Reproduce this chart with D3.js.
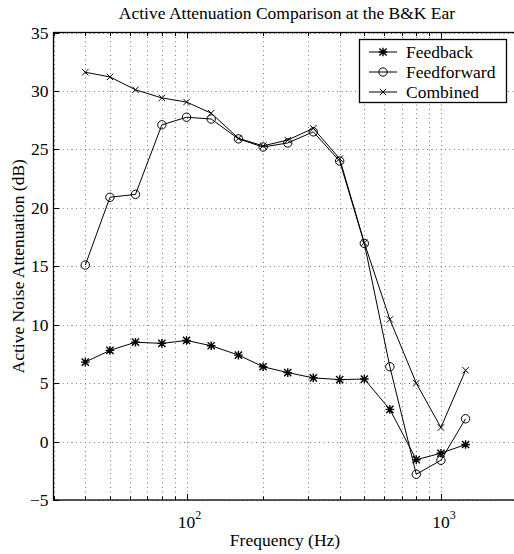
<!DOCTYPE html>
<html>
<head>
<meta charset="utf-8">
<script src="https://cdn.jsdelivr.net/npm/d3@7"></script>
<style>
    body { margin: 0; background: #fff; }
    svg { display: block; font-family: 'Liberation Serif', 'DejaVu Serif', serif; }
</style>
</head>
<body>
<svg id="chart" width="514" height="554"></svg>
<script>
'use strict';

// 1/3-octave band centre frequencies (Hz)
const freqs = [40, 50, 63, 80, 100, 125, 160, 200, 250, 315, 400, 500, 630, 800, 1000, 1250];

// attenuation in dB
const feedback = [6.8, 7.8, 8.5, 8.4, 8.65, 8.2, 7.4, 6.4, 5.9, 5.45, 5.3, 5.35, 2.75, -1.55, -1.0, -0.25];
const feedforward = [15.1, 20.9, 21.15, 27.1, 27.75, 27.6, 25.9, 25.2, 25.55, 26.5, 24.0, 16.95, 6.4, -2.8, -1.6, 1.95];
const combined = [31.6, 31.2, 30.1, 29.4, 29.05, 28.1, 25.95, 25.3, 25.8, 26.8, 24.2, 17.0, 10.45, 5.0, 1.2, 6.1];

const seriesNames = ['Feedback', 'Feedforward', 'Combined'];
const seriesMarkers = ['star', 'circle', 'cross'];
const yTicks = [-5, 0, 5, 10, 15, 20, 25, 30, 35];
const xMajor = [100, 1000];
const xMinor = [30, 40, 50, 60, 70, 80, 90, 200, 300, 400, 500, 600, 700, 800, 900, 2000];

const FONT = 17.5;

const plotChart = () => {
    const vis = d3.select('#chart');
    const margin = {left: 53.5, top: 32.5, right: 517.5, bottom: 500};

    const x = d3.scaleLog().domain([30, 2000]).range([margin.left, margin.right]);
    const y = d3.scaleLinear().domain([-5, 35]).range([margin.bottom, margin.top]);

    // grid
    const grid = vis.append('g')
        .attr('stroke', '#777')
        .attr('stroke-width', 1)
        .attr('stroke-dasharray', '1,3.5');
    grid.selectAll('.gx')
        .data(xMajor.concat(xMinor))
        .enter().append('line')
        .attr('x1', d => Math.round(x(d)) + 0.5)
        .attr('x2', d => Math.round(x(d)) + 0.5)
        .attr('y1', margin.top)
        .attr('y2', margin.bottom);
    grid.selectAll('.gy')
        .data(yTicks)
        .enter().append('line')
        .attr('x1', margin.left)
        .attr('x2', margin.right)
        .attr('y1', d => Math.round(y(d)) + 0.5)
        .attr('y2', d => Math.round(y(d)) + 0.5);

    // axes ticks (inward, MATLAB style)
    const ticks = vis.append('g').attr('stroke', '#000').attr('stroke-width', 1);
    const tickSets = [[xMajor, 6], [xMinor, 3.5]];
    tickSets.forEach(([vals, len]) => {
        vals.forEach(v => {
            const px = Math.round(x(v)) + 0.5;
            ticks.append('line').attr('x1', px).attr('x2', px)
                .attr('y1', margin.bottom).attr('y2', margin.bottom - len);
            ticks.append('line').attr('x1', px).attr('x2', px)
                .attr('y1', margin.top).attr('y2', margin.top + len);
        });
    });
    yTicks.forEach(v => {
        const py = Math.round(y(v)) + 0.5;
        ticks.append('line').attr('x1', margin.left).attr('x2', margin.left + 6)
            .attr('y1', py).attr('y2', py);
    });

    // box
    vis.append('rect')
        .attr('x', margin.left)
        .attr('y', margin.top)
        .attr('width', margin.right - margin.left)
        .attr('height', margin.bottom - margin.top)
        .attr('fill', 'none')
        .attr('stroke', '#000')
        .attr('stroke-width', 1.3);

    // tick labels
    vis.append('g')
        .selectAll('text')
        .data(yTicks)
        .enter().append('text')
        .attr('x', margin.left - 5)
        .attr('y', d => y(d) + 6)
        .attr('text-anchor', 'end')
        .attr('font-size', FONT)
        .text(d => d < 0 ? '\u2212' + Math.abs(d) : d);

    const xl = vis.append('g')
        .selectAll('text')
        .data(xMajor)
        .enter().append('text')
        .attr('x', d => x(d) + 3)
        .attr('y', 528)
        .attr('text-anchor', 'middle')
        .attr('font-size', FONT);
    xl.append('tspan').text('10');
    xl.append('tspan')
        .attr('font-size', 12)
        .attr('dy', -9)
        .text(d => Math.round(Math.log10(d)));

    // axis titles
    vis.append('text')
        .attr('x', 287)
        .attr('y', 19)
        .attr('text-anchor', 'middle')
        .attr('font-size', FONT)
        .text('Active Attenuation Comparison at the B&K Ear');
    vis.append('text')
        .attr('x', 285)
        .attr('y', 546)
        .attr('text-anchor', 'middle')
        .attr('font-size', FONT)
        .text('Frequency (Hz)');
    vis.append('text')
        .attr('transform', `translate(24,${(margin.top + margin.bottom) / 2}) rotate(-90)`)
        .attr('text-anchor', 'middle')
        .attr('font-size', FONT)
        .text('Active Noise Attenuation (dB)');

    // markers
    const drawMarker = (g, kind, cx, cy) => {
        if (kind === 'circle') {
            g.append('circle').attr('cx', cx).attr('cy', cy).attr('r', 4.2)
                .attr('fill', 'none').attr('stroke', '#000').attr('stroke-width', 1);
        } else {
            const s = kind === 'star' ? 3.6 : 3.2;
            const path = d3.path();
            path.moveTo(cx - s, cy - s); path.lineTo(cx + s, cy + s);
            path.moveTo(cx - s, cy + s); path.lineTo(cx + s, cy - s);
            if (kind === 'star') {
                path.moveTo(cx - s * 1.2, cy); path.lineTo(cx + s * 1.2, cy);
                path.moveTo(cx, cy - s * 1.2); path.lineTo(cx, cy + s * 1.2);
            }
            g.append('path').attr('d', path.toString())
                .attr('fill', 'none').attr('stroke', '#000')
                .attr('stroke-width', kind === 'star' ? 1.4 : 1);
        }
    };

    const line = d3.line()
        .x(d => x(d[0]))
        .y(d => y(d[1]));

    const plot = vis.append('g');
    [feedback, feedforward, combined].forEach((vals, i) => {
        const pts = freqs.map((f, j) => [f, vals[j]]);
        plot.append('path')
            .attr('d', line(pts))
            .attr('fill', 'none')
            .attr('stroke', '#000')
            .attr('stroke-width', 1);
        pts.forEach(p => drawMarker(plot, seriesMarkers[i], x(p[0]), y(p[1])));
    });

    // legend
    const lg = vis.append('g');
    lg.append('rect')
        .attr('x', 359.5).attr('y', 39.5)
        .attr('width', 147).attr('height', 63)
        .attr('fill', '#fff').attr('stroke', '#000').attr('stroke-width', 1.3);
    seriesNames.forEach((name, i) => {
        const ly = 52 + i * 20;
        lg.append('line').attr('x1', 369).attr('x2', 397).attr('y1', ly).attr('y2', ly)
            .attr('stroke', '#000').attr('stroke-width', 1);
        drawMarker(lg, seriesMarkers[i], 383, ly);
        lg.append('text').attr('x', 406).attr('y', ly + 6)
            .attr('font-size', FONT).text(name);
    });
};

plotChart();
</script>
</body>
</html>
